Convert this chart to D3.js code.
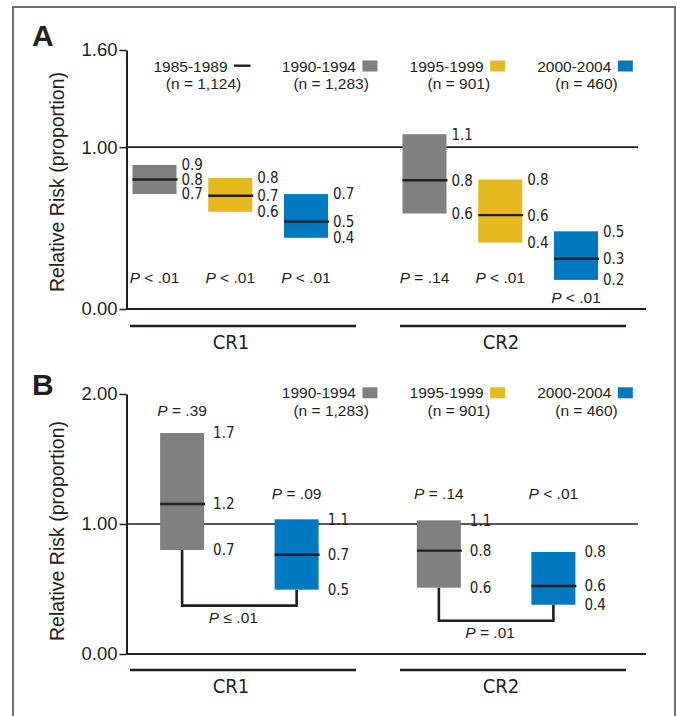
<!DOCTYPE html>
<html>
<head>
<meta charset="utf-8">
<script src="https://cdn.jsdelivr.net/npm/d3@7"></script>
<style>
  html, body { margin: 0; padding: 0; background: #fff; }
  svg { display: block; }
  .reg { font-family: "Liberation Sans", Arial, Helvetica, sans-serif; fill: #231f20; }
  .nar { font-family: "Liberation Sans Narrow", "DejaVu Sans Condensed", "Liberation Sans", sans-serif; fill: #231f20; }
</style>
</head>
<body>
<script>
// ---------------- DATA ----------------
const groups = ["CR1", "CR2"];
const legendPeriods = ["1985-1989", "1990-1994", "1995-1999", "2000-2004"];
const legendN = ["1,124", "1,283", "901", "460"];

// Panel A
const periodsA = ["1990-1994", "1995-1999", "2000-2004"];
const aLow  = [[0.71, 0.60, 0.44], [0.59, 0.41, 0.18]];
const aMed  = [[0.80, 0.70, 0.54], [0.795, 0.58, 0.31]];
const aHigh = [[0.89, 0.81, 0.71], [1.08, 0.80, 0.48]];
const aValueLabels = [
  [["0.9", "0.8", "0.7"], ["0.8", "0.7", "0.6"], ["0.7", "0.5", "0.4"]],
  [["1.1", "0.8", "0.6"], ["0.8", "0.6", "0.4"], ["0.5", "0.3", "0.2"]]
];
const aPOp  = [["<", "<", "<"], ["=", "<", "<"]];
const aPVal = [[".01", ".01", ".01"], [".14", ".01", ".01"]];
const aTicks = [0, 1, 1.6];

// Panel B
const periodsB = ["1990-1994", "2000-2004"];
const bLow  = [[0.80, 0.495], [0.51, 0.379]];
const bMed  = [[1.154, 0.764], [0.795, 0.523]];
const bHigh = [[1.70, 1.036], [1.028, 0.785]];
const bValueLabels = [
  [["1.7", "1.2", "0.7"], ["1.1", "0.7", "0.5"]],
  [["1.1", "0.8", "0.6"], ["0.8", "0.6", "0.4"]]
];
const bPOp  = [["=", "="], ["=", "<"]];
const bPVal = [[".39", ".09"], [".14", ".01"]];
const bCompOp  = ["\u2264", "="];
const bCompVal = [".01", ".01"];
const bTicks = [0, 1, 2];

const yLabel = "Relative Risk (proportion)";

// ---------------- STYLE ----------------
const colorOf = {
  "1985-1989": "#231f20",
  "1990-1994": "#808080",
  "1995-1999": "#e6b921",
  "2000-2004": "#0079c1"
};
const ink = "#231f20";
const W = 681, H = 716;
const barW = 44;

const svg = d3.select("body").append("svg").attr("width", W).attr("height", H);

// outer frame
svg.append("rect").attr("x", 13).attr("y", 7).attr("width", 662).attr("height", 730)
  .attr("fill", "none").attr("stroke", "#4a4a4a").attr("stroke-width", 1.6);

// shared frame scale for CR group underline
const xFrame = d3.scaleBand().domain(groups).range([130, 626]).paddingInner(0.163).paddingOuter(0);
// legend centers
const xLegend = d3.scalePoint().domain(legendPeriods).range([202, 585]);

function drawLegend(periods, baseline) {
  periods.forEach(p => {
    const i = legendPeriods.indexOf(p);
    const cx = xLegend(p);
    const g = svg.append("g");
    const t = g.append("text").attr("class", "reg").attr("font-size", 15.5)
      .attr("y", baseline).text(p);
    const tw = t.node().getComputedTextLength();
    const symW = i === 0 ? 16.5 : 15;
    const gap = 6.5;
    const total = tw + gap + symW;
    const start = cx - total / 2;
    t.attr("x", start);
    if (i === 0) {
      g.append("line").attr("x1", start + tw + gap).attr("x2", start + tw + gap + symW)
        .attr("y1", baseline - 5.8).attr("y2", baseline - 5.8)
        .attr("stroke", ink).attr("stroke-width", 2.4);
    } else {
      g.append("rect").attr("x", start + tw + gap).attr("y", baseline - 11)
        .attr("width", symW).attr("height", 11).attr("fill", colorOf[p]);
    }
    g.append("text").attr("class", "reg").attr("font-size", 15.5)
      .attr("x", cx + 1.5).attr("y", baseline + 17.5).attr("text-anchor", "middle")
      .text("(n = " + legendN[i] + ")");
  });
}

function pText(sel, op, val) {
  sel.append("tspan").attr("font-style", "italic").text("P");
  sel.append("tspan").text(" " + op + " " + val);
}

function drawPanel(cfg) {
  const y = d3.scaleLinear().domain([0, cfg.ticks[cfg.ticks.length - 1]]).range(cfg.yRange);
  const x0 = d3.scaleBand().domain(groups).range(cfg.xRange);
  const x1 = d3.scalePoint().domain(cfg.periods).range([0, x0.bandwidth()]).padding(cfg.innerPad);
  const axisX = 126.5;
  const cx = (gi, pi) => x0(groups[gi]) + x1(cfg.periods[pi]);

  // panel letter
  svg.append("text").attr("class", "reg").attr("font-weight", "bold").attr("font-size", 30)
    .attr("x", 32).attr("y", cfg.letterY).text(cfg.letter);

  // y label
  const ymid = cfg.labelMid;
  svg.append("text").attr("class", "reg").attr("font-size", 19.5)
    .attr("text-anchor", "middle")
    .attr("transform", `translate(64,${ymid}) rotate(-90)`)
    .text(yLabel);

  // gridline at 1.00
  svg.append("line").attr("x1", axisX).attr("x2", 638).attr("y1", y(1)).attr("y2", y(1))
    .attr("stroke", ink).attr("stroke-width", 1.6);
  // baseline
  svg.append("line").attr("x1", axisX).attr("x2", 646).attr("y1", y(0)).attr("y2", y(0))
    .attr("stroke", ink).attr("stroke-width", 2);

  // axis
  const ax = svg.append("g").attr("transform", `translate(${axisX},0)`)
    .call(d3.axisLeft(y).tickValues(cfg.ticks).tickFormat(d3.format(".2f"))
      .tickSize(7).tickPadding(2).tickSizeOuter(0));
  ax.select(".domain").attr("stroke", ink).attr("stroke-width", 2);
  ax.selectAll(".tick line").attr("stroke", ink).attr("stroke-width", 1.5);
  ax.selectAll(".tick text").attr("class", "reg").attr("font-size", 18.5)
    .attr("fill", ink).attr("font-family", null);

  // comparison brackets (panel B)
  if (cfg.comp) {
    groups.forEach((gname, gi) => {
      const xa = cx(gi, 0), xb = cx(gi, 1);
      const ya = y(cfg.low[gi][0]), yb = y(cfg.low[gi][1]);
      const yBr = Math.max(ya, yb) + 16;
      svg.append("path")
        .attr("d", `M${xa},${ya} V${yBr} H${xb} V${yb}`)
        .attr("fill", "none").attr("stroke", ink).attr("stroke-width", 2.6);
      const t = svg.append("text").attr("class", "reg").attr("font-size", 15.5)
        .attr("text-anchor", "middle").attr("x", (xa + xb) / 2 - 6).attr("y", yBr + 17);
      pText(t, cfg.comp.op[gi], cfg.comp.val[gi]);
    });
  }

  // boxes
  groups.forEach((gname, gi) => {
    cfg.periods.forEach((p, pi) => {
      const c = cx(gi, pi);
      const lo = cfg.low[gi][pi], md = cfg.med[gi][pi], hi = cfg.high[gi][pi];
      svg.append("rect").attr("x", c - barW / 2).attr("y", y(hi))
        .attr("width", barW).attr("height", y(lo) - y(hi)).attr("fill", colorOf[p]);
      svg.append("line").attr("x1", c - barW / 2).attr("x2", c + barW / 2 + 1)
        .attr("y1", y(md)).attr("y2", y(md)).attr("stroke", ink).attr("stroke-width", 2.4);
      const labs = cfg.labels[gi][pi];
      [hi, md, lo].forEach((v, k) => {
        svg.append("text").attr("class", "nar").attr("font-size", 15)
          .attr("x", c + barW / 2 + cfg.labelGap).attr("y", y(v)).attr("dy", "0.36em")
          .text(labs[k]);
      });
      const t = svg.append("text").attr("class", "reg").attr("font-size", 15.5)
        .attr("text-anchor", "middle").attr("x", c).attr("y", cfg.pY(y, lo, hi));
      pText(t, cfg.pOp[gi][pi], cfg.pVal[gi][pi]);
    });
  });

  // group underline + labels
  groups.forEach(gname => {
    svg.append("line").attr("x1", xFrame(gname)).attr("x2", xFrame(gname) + xFrame.bandwidth())
      .attr("y1", cfg.groupLineY).attr("y2", cfg.groupLineY)
      .attr("stroke", ink).attr("stroke-width", 2.6);
    svg.append("text").attr("class", "nar").attr("font-size", 20)
      .attr("text-anchor", "middle")
      .attr("x", xFrame(gname) + xFrame.bandwidth() / 2 - 12)
      .attr("y", cfg.groupLineY + 23).text(gname);
  });
}

drawPanel({
  letter: "A", letterY: 46, labelMid: 182,
  ticks: aTicks, yRange: [309, 50], xRange: [95.25, 635.25], innerPad: 0.782,
  periods: periodsA, low: aLow, med: aMed, high: aHigh, labels: aValueLabels,
  labelGap: 5, pOp: aPOp, pVal: aPVal,
  pY: (y, lo, hi) => Math.max(y(0.16), y(lo) + 23),
  groupLineY: 326
});
drawLegend(legendPeriods, 71.5);

drawPanel({
  letter: "B", letterY: 395, labelMid: 531,
  ticks: bTicks, yRange: [654, 394], xRange: [111, 624.5], innerPad: 0.621,
  periods: periodsB, low: bLow, med: bMed, high: bHigh, labels: bValueLabels,
  labelGap: 9, pOp: bPOp, pVal: bPVal,
  pY: (y, lo, hi) => Math.min(y(1.19), y(hi) - 17),
  comp: { op: bCompOp, val: bCompVal },
  groupLineY: 670
});
drawLegend(legendPeriods.slice(1), 398.3);
</script>
</body>
</html>
